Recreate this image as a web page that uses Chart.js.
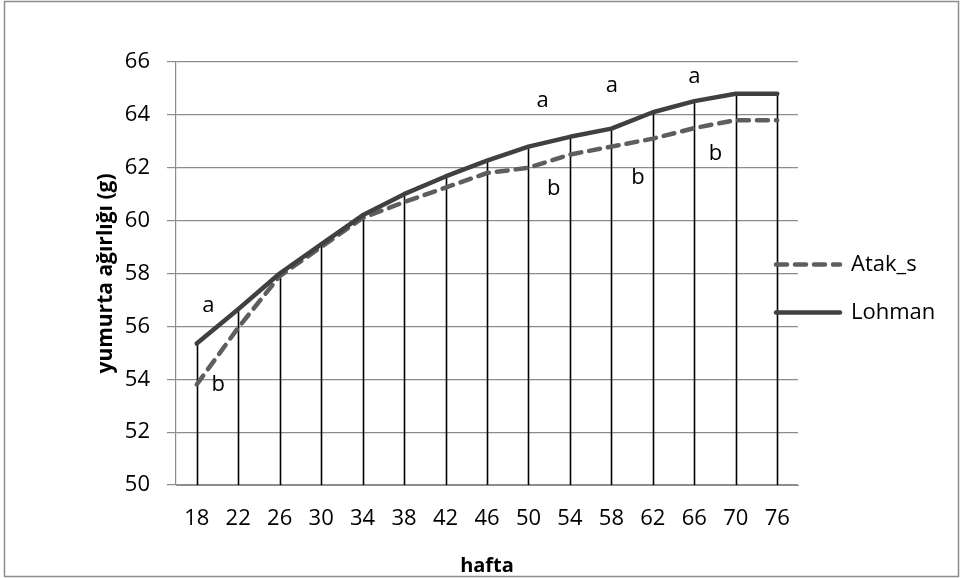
<!DOCTYPE html>
<html>
<head>
<meta charset="utf-8">
<script src="https://cdn.jsdelivr.net/npm/chart.js@4.4.1/dist/chart.umd.min.js"></script>
<style>
html,body{margin:0;padding:0;background:#fff}
canvas{display:block}
</style>
</head>
<body>
<canvas id="c" width="960" height="578"></canvas>
<script>
// ---- data ----
const weeks   = ['18','22','26','30','34','38','42','46','50','54','58','62','66','70','76'];
const atakS   = [53.8, 55.95, 57.9, 59.0, 60.1, 60.7, 61.25, 61.8, 62.0, 62.5, 62.8, 63.1, 63.5, 63.8, 63.8];
const lohman  = [55.35, 56.65, 58.0, 59.1, 60.2, 61.0, 61.67, 62.27, 62.8, 63.17, 63.48, 64.1, 64.52, 64.8, 64.8];
const yTicks  = [50, 52, 54, 56, 58, 60, 62, 64, 66];
const seriesNames = ['Atak_s', 'Lohman'];
const yTitle = 'yumurta ağırlığı (g)';
const xTitle = 'hafta';
// significance letters (category position, value)
const letterText = ['a', 'b', 'a', 'b', 'a', 'b', 'a', 'b'];
const letterCat  = [0.28, 0.52, 8.34, 8.61, 10.01, 10.64, 12.0, 12.51];
const letterVal  = [56.70, 53.71, 64.42, 61.10, 64.99, 61.54, 65.36, 62.43];

const FONT = "'Open Sans', 'DejaVu Sans', sans-serif";
const GRID = '#8c8c8c';

const dropLines = {
  id: 'dropLines',
  beforeDatasetsDraw(chart) {
    const {ctx, scales: {x, y}} = chart;
    ctx.save();
    ctx.strokeStyle = '#000';
    ctx.lineWidth = 1.6;
    for (let i = 0; i < weeks.length; i++) {
      const top = Math.max(atakS[i], lohman[i]);
      const px = Math.round(x.getPixelForValue(i)) + 0.5;
      ctx.beginPath();
      ctx.moveTo(px, y.getPixelForValue(top));
      ctx.lineTo(px, y.getPixelForValue(yTicks[0]));
      ctx.stroke();
    }
    ctx.restore();
  }
};

const letters = {
  id: 'letters',
  afterDatasetsDraw(chart) {
    const {ctx, scales: {x, y}} = chart;
    ctx.save();
    ctx.fillStyle = '#000';
    ctx.font = '22px ' + FONT;
    ctx.textAlign = 'center';
    ctx.textBaseline = 'middle';
    for (let i = 0; i < letterText.length; i++) {
      ctx.fillText(letterText[i], x.getPixelForValue(letterCat[i]), y.getPixelForValue(letterVal[i]) - 2.6);
    }
    ctx.restore();
  }
};

const customLegend = {
  id: 'customLegend',
  afterDraw(chart) {
    const {ctx} = chart;
    const ys = [264.5, 312.5];
    ctx.save();
    chart.data.datasets.forEach((ds, i) => {
      ctx.strokeStyle = ds.borderColor;
      ctx.lineWidth = ds.borderWidth;
      ctx.lineCap = 'round';
      ctx.setLineDash(ds.borderDash || []);
      ctx.beginPath();
      ctx.moveTo(776, ys[i]);
      ctx.lineTo(840, ys[i]);
      ctx.stroke();
      ctx.setLineDash([]);
      ctx.fillStyle = '#000';
      ctx.font = '22px ' + FONT;
      ctx.textAlign = 'left';
      ctx.textBaseline = 'middle';
      ctx.fillText(ds.label, 851, ys[i]);
    });
    // outer frame
    ctx.strokeStyle = '#8c8c8c';
    ctx.lineWidth = 1.5;
    ctx.strokeRect(4.5, 1.5, 954, 575);
    ctx.restore();
  }
};

new Chart(document.getElementById('c'), {
  type: 'line',
  data: {
    labels: weeks,
    datasets: [
      {
        label: seriesNames[0],
        data: atakS,
        borderColor: '#5e5e5e',
        borderWidth: 4.5,
        borderDash: [11, 8],
        borderCapStyle: 'round',
        pointRadius: 0,
        tension: 0,
        order: 1
      },
      {
        label: seriesNames[1],
        data: lohman,
        borderColor: '#404040',
        borderWidth: 4.5,
        borderCapStyle: 'round',
        borderJoinStyle: 'round',
        pointRadius: 0,
        tension: 0,
        order: 0
      }
    ]
  },
  options: {
    responsive: false,
    animation: false,
    events: [],
    layout: {padding: {top: 62, right: 162, left: 0, bottom: 0}},
    plugins: {
      legend: {display: false},
      tooltip: {enabled: false}
    },
    scales: {
      x: {
        type: 'category',
        offset: true,
        grid: {display: false, drawTicks: false},
        border: {display: true, color: GRID, width: 1},
        ticks: {color: '#000', font: {family: FONT, size: 22}, padding: 21, maxRotation: 0, autoSkip: false},
        title: {display: true, text: xTitle, color: '#000', font: {family: FONT, size: 20, weight: 'bold'}, padding: {top: 16, bottom: 0}},
        afterFit(s) { s.height = 93; }
      },
      y: {
        min: yTicks[0],
        max: yTicks[yTicks.length - 1],
        afterBuildTicks(s) { s.ticks = yTicks.map(v => ({value: v})); },
        grid: {color: GRID, lineWidth: 1.2, drawTicks: true, tickLength: 9, tickColor: GRID},
        border: {display: true, color: GRID, width: 1.2},
        ticks: {color: '#000', font: {family: FONT, size: 22}, padding: 17},
        title: {display: true, text: yTitle, color: '#000', font: {family: FONT, size: 21, weight: 'bold'}, padding: {top: 93, bottom: 0}},
        afterFit(s) { s.width = 176; }
      }
    }
  },
  plugins: [dropLines, letters, customLegend]
});
</script>
</body>
</html>
